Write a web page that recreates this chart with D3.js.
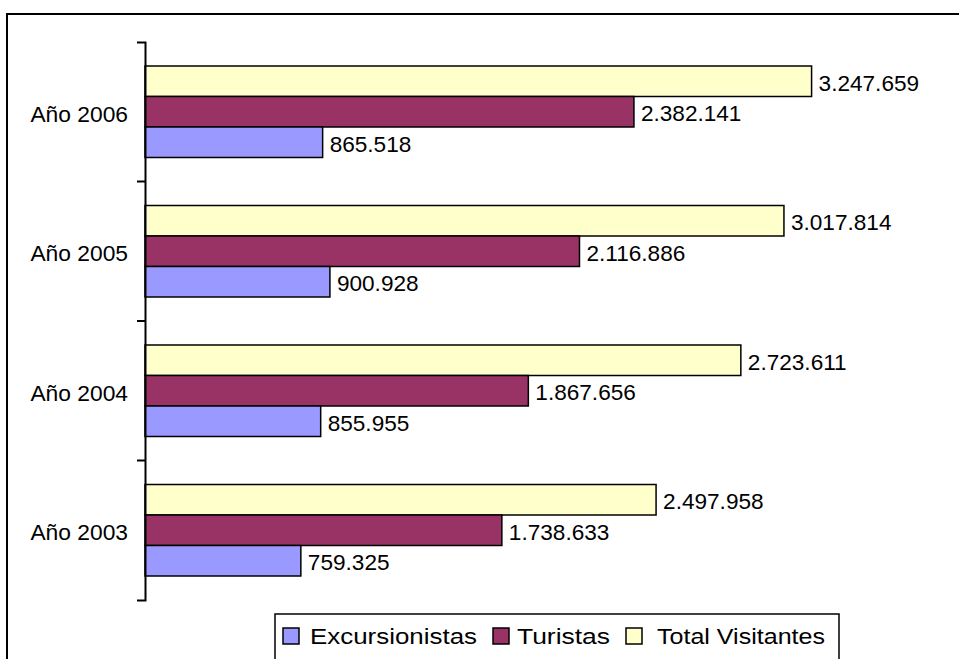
<!DOCTYPE html>
<html><head><meta charset="utf-8">
<script src="https://cdn.jsdelivr.net/npm/d3@7/dist/d3.min.js"></script>
<style>html,body{margin:0;padding:0;background:#fff;overflow:hidden}</style>
</head><body>
<svg id="chart" width="959" height="659"></svg>
<script>
const categories = ["Año 2006", "Año 2005", "Año 2004", "Año 2003"];
const seriesNames = ["Total Visitantes", "Turistas", "Excursionistas"];
const excursionistas = [865518, 900928, 855955, 759325];
const turistas = [2382141, 2116886, 1867656, 1738633];
// bar lengths of Total Visitantes as drawn in the picture
const totalVisitantes = [3247659, 3113000, 2903000, 2490000];
// printed data labels
const excursionistasLabels = ["865.518", "900.928", "855.955", "759.325"];
const turistasLabels = ["2.382.141", "2.116.886", "1.867.656", "1.738.633"];
const totalLabels = ["3.247.659", "3.017.814", "2.723.611", "2.497.958"];
const legendOrder = ["Excursionistas", "Turistas", "Total Visitantes"];
const colors = {"Excursionistas": "#9999FF", "Turistas": "#993366", "Total Visitantes": "#FFFFCC"};

const seriesValues = {"Total Visitantes": totalVisitantes, "Turistas": turistas, "Excursionistas": excursionistas};
const seriesLabels = {"Total Visitantes": totalLabels, "Turistas": turistasLabels, "Excursionistas": excursionistasLabels};

const svg = d3.select("#chart");
const font = "'Liberation Sans', Arial, sans-serif";

// outer frame
svg.append("rect").attr("x", 7).attr("y", 14).attr("width", 1000).attr("height", 700)
  .attr("fill", "#fff").attr("stroke", "#000").attr("stroke-width", 2);

const x = d3.scaleLinear().domain([0, 4000000]).range([145, 966]);
const y = d3.scaleBand().domain(categories).range([42, 600]).paddingInner(0).paddingOuter(0);
const ys = d3.scaleBand().domain(seriesNames).range([0, y.bandwidth()]).paddingInner(0).paddingOuter(0.787);

const rows = [];
categories.forEach((c, i) => seriesNames.forEach(s => rows.push({cat: c, s, v: seriesValues[s][i], l: seriesLabels[s][i]})));

const g = svg.append("g");
g.selectAll("rect.bar").data(rows).join("rect").attr("class", "bar")
  .attr("x", x(0)).attr("y", d => y(d.cat) + ys(d.s))
  .attr("width", d => x(d.v) - x(0)).attr("height", ys.bandwidth())
  .attr("fill", d => colors[d.s]).attr("stroke", "#000").attr("stroke-width", 1.5);

g.selectAll("text.lbl").data(rows).join("text").attr("class", "lbl")
  .attr("x", d => x(d.v) + 7).attr("y", d => y(d.cat) + ys(d.s) + ys.bandwidth() / 2)
  .attr("dy", "0.42em").attr("font-family", font).attr("font-size", 22.6).attr("fill", "#000")
  .text(d => d.l);

// axis
const axis = d3.axisLeft(y).tickSizeInner(0).tickSizeOuter(8).tickPadding(17);
const ag = svg.append("g").attr("transform", "translate(145,0)").call(axis);
ag.select(".domain").attr("stroke", "#000").attr("stroke-width", 2);
ag.selectAll(".tick text").attr("font-family", font).attr("font-size", 22.8).attr("fill", "#000").attr("dy", "0.43em");
ag.selectAll(".tick line").remove();
ag.selectAll("line.bound").data(categories.slice(1)).join("line").attr("class", "bound")
  .attr("x1", -8).attr("x2", 0).attr("y1", d => y(d)).attr("y2", d => y(d))
  .attr("stroke", "#000").attr("stroke-width", 2);

// legend
const lg = svg.append("g");
lg.append("rect").attr("x", 275).attr("y", 614).attr("width", 564).attr("height", 60)
  .attr("fill", "#fff").attr("stroke", "#000").attr("stroke-width", 1.5);
const legendPos = [{sq: 283, tx: 310, tl: 167}, {sq: 493, tx: 517, tl: 93}, {sq: 626, tx: 657, tl: 168}];
legendOrder.forEach((name, i) => {
  const p = legendPos[i];
  lg.append("rect").attr("x", p.sq).attr("y", 628).attr("width", 16).attr("height", 16)
    .attr("fill", colors[name]).attr("stroke", "#000").attr("stroke-width", 1.5);
  lg.append("text").attr("x", p.tx).attr("y", 644).attr("font-family", font).attr("font-size", 22.6)
    .attr("textLength", p.tl).attr("lengthAdjust", "spacingAndGlyphs").text(name);
});
</script>
</body></html>
